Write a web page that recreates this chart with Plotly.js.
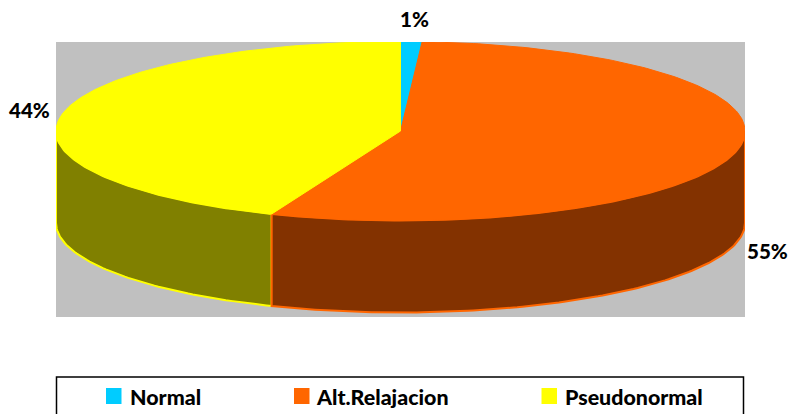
<!DOCTYPE html>
<html><head><meta charset="utf-8">
<script src="https://cdn.plot.ly/plotly-3.0.1.min.js"></script>
<style>html,body{margin:0;padding:0;background:#fff}#c{width:789px;height:414px}</style>
</head><body><div id="c"></div>
<script>
const categories = ["Normal", "Alt.Relajacion", "Pseudonormal"];
const values = [1, 55.1, 43.9];
const percentLabels = ["1%", "55%", "44%"];
const topColors = ["#00CCFF", "#FF6600", "#FFFF00"];
const wallColors = ["#006680", "#833200", "#808000"];

// projection of the tilted pie, in the units of the axes (pixels)
const cx = 400.5, cy = 131, rx = 344.5, ry = 89.5, depth = 92;
const px = a => cx + rx * Math.sin(a);
const py = a => cy - ry * Math.cos(a);
const total = values.reduce((s, v) => s + v, 0);
const walls = [], tops = [];
let acc = 0;
values.forEach((v, i) => {
  const a0 = acc / total * 2 * Math.PI;
  acc += v;
  const a1 = acc / total * 2 * Math.PI;
  const n = Math.max(4, Math.ceil((a1 - a0) * 60));
  const arc = [];
  for (let k = 0; k <= n; k++) arc.push(a0 + (a1 - a0) * k / n);
  tops.push({
    type: "scatter", mode: "lines", fill: "toself", fillcolor: topColors[i],
    x: [cx].concat(arc.map(px), [cx]), y: [cy].concat(arc.map(py), [cy]),
    line: { color: topColors[i], width: 1 }, hoverinfo: "text", text: categories[i],
    cliponaxis: false, showlegend: false
  });
  // only the front half of the rim shows a wall
  const w0 = Math.max(a0, Math.PI / 2), w1 = Math.min(a1, 3 * Math.PI / 2);
  if (w1 > w0) {
    const m = Math.ceil((w1 - w0) * 60), rim = [];
    for (let k = 0; k <= m; k++) rim.push(w0 + (w1 - w0) * k / m);
    const back = rim.slice().reverse();
    walls.unshift({
      type: "scatter", mode: "lines", fill: "toself", fillcolor: wallColors[i],
      x: rim.map(px).concat(back.map(px), [px(rim[0])]),
      y: rim.map(py).concat(back.map(a => py(a) + depth), [py(rim[0])]),
      line: { color: topColors[i], width: 2 }, hoverinfo: "skip",
      cliponaxis: false, showlegend: false
    });
  }
});

// page pixels to paper fractions of the plot area
const L = 56, R = 745, T = 42, B = 317;
const fx = x => (x - L) / (R - L);
const fy = y => (B - y) / (B - T);

const font = { family: "Lato, sans-serif", size: 20.5, color: "#000", weight: 900 };
const labelPos = [[414.5, 19], [767.5, 251], [29, 110]];
const annotations = percentLabels.map((t, i) => ({
  text: t, x: fx(labelPos[i][0]), y: fy(labelPos[i][1]),
  xref: "paper", yref: "paper", showarrow: false, font, xanchor: "center", yanchor: "middle"
}));
const legendSquares = [106, 294, 541.5];
const legendTextX = [127.5, 314, 562.5];
const shapes = [{
  type: "rect", xref: "paper", yref: "paper", x0: fx(56.5), x1: fx(743.5), y0: fy(377), y1: fy(420),
  line: { color: "#000", width: 1.5 }, fillcolor: "rgba(0,0,0,0)", layer: "above"
}];
categories.forEach((c, i) => {
  shapes.push({
    type: "rect", xref: "paper", yref: "paper", x0: fx(legendSquares[i]), x1: fx(legendSquares[i] + 15.5),
    y0: fy(388), y1: fy(404), line: { width: 0 }, fillcolor: topColors[i], layer: "above"
  });
  annotations.push({
    text: c, x: fx(legendTextX[i]), y: fy(397), xref: "paper", yref: "paper",
    showarrow: false, font: Object.assign({}, font, { size: 21.4 }), xanchor: "left", yanchor: "middle"
  });
});

const hidden = { visible: false, fixedrange: true };
Plotly.newPlot("c", walls.concat(tops), {
  width: 789, height: 414, showlegend: false,
  margin: { l: L, r: 789 - R, t: T, b: 414 - B, pad: 0 },
  paper_bgcolor: "#fff", plot_bgcolor: "#C0C0C0",
  xaxis: Object.assign({ range: [L, R] }, hidden),
  yaxis: Object.assign({ range: [B, T] }, hidden),
  annotations, shapes
}, { displayModeBar: false, staticPlot: true });
</script></body></html>
